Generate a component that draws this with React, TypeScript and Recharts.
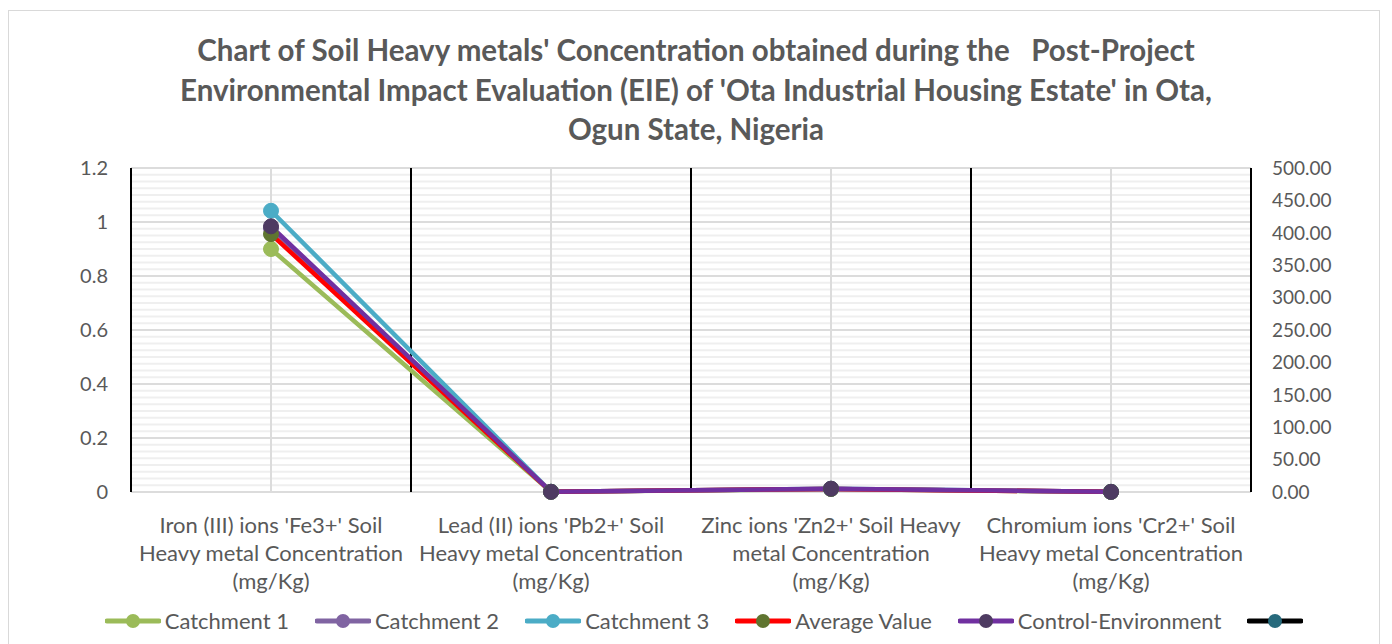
import React from "react";
import {
  LineChart,
  Line,
  XAxis,
  YAxis,
  CartesianGrid,
  ReferenceLine,
} from "recharts";

// category labels, broken the way the original wraps them
const categories = [
  "Iron (III) ions 'Fe3+' Soil\nHeavy metal Concentration\n(mg/Kg)",
  "Lead (II) ions 'Pb2+' Soil\nHeavy metal Concentration\n(mg/Kg)",
  "Zinc ions 'Zn2+' Soil Heavy\nmetal Concentration\n(mg/Kg)",
  "Chromium ions 'Cr2+' Soil\nHeavy metal Concentration\n(mg/Kg)",
];

// mg/Kg
const catchment1 = [375, 0.3, 4.6, 0.2];
const catchment2 = [407, 0.3, 4.8, 0.2];
const catchment3 = [434, 0.4, 5.0, 0.3];
const averageValue = [398, 0.3, 4.8, 0.2];
const controlEnvironment = [410, 0.3, 5.2, 0.2];
const blankSeries = [null, null, null, null];

const leftTicks = [0, 0.2, 0.4, 0.6, 0.8, 1, 1.2];
const rightTicks = [0, 50, 100, 150, 200, 250, 300, 350, 400, 450, 500];

const titleLines = [
  "Chart of Soil Heavy metals' Concentration obtained during the   Post-Project",
  "Environmental Impact Evaluation (EIE) of 'Ota Industrial Housing Estate' in Ota,",
  "Ogun State, Nigeria",
];

const series = [
  { key: "c1", name: "Catchment 1", values: catchment1, line: "#9BBB59", marker: "#9BBB59", axis: "right" },
  { key: "c2", name: "Catchment 2", values: catchment2, line: "#8064A2", marker: "#8064A2", axis: "right" },
  { key: "c3", name: "Catchment 3", values: catchment3, line: "#4BACC6", marker: "#4BACC6", axis: "right" },
  { key: "avg", name: "Average Value", values: averageValue, line: "#FF0000", marker: "#5F7530", axis: "right" },
  { key: "ctl", name: "Control-Environment", values: controlEnvironment, line: "#7030A0", marker: "#4E3B62", axis: "right" },
  { key: "blank", name: "", values: blankSeries, line: "#000000", marker: "#276A7C", axis: "left" },
];

const data = categories.map((label, i) => {
  const row: any = { pos: i + 0.5, label };
  series.forEach((s) => (row[s.key] = s.values[i]));
  return row;
});

const centers = data.map((d) => d.pos);
const boundaries = categories.map((_, i) => i).concat(categories.length);
// minor gridlines, 8 per major step
const minorLines: number[] = [];
for (let k = 0; k <= 48; k++) minorLines.push(+(k * 0.025).toFixed(3));

const FONT = "Lato, 'Open Sans', sans-serif";
const TEXT = "#595959";

function CategoryTick(props: any) {
  const { x, y, payload } = props;
  const idx = Math.round(payload.value - 0.5);
  const lines = (categories[idx] || "").split("\n");
  return (
    <text x={x} y={y + 33} textAnchor="middle" fill={TEXT} fontSize={22} fontFamily={FONT}>
      {lines.map((l, i) => (
        <tspan key={i} x={x} dy={i === 0 ? 0 : 28}>
          {l}
        </tspan>
      ))}
    </text>
  );
}

function LegendRow() {
  return (
    <div
      style={{
        position: "absolute",
        top: 599,
        left: 1,
        width: 1390,
        display: "flex",
        justifyContent: "center",
        alignItems: "center",
        gap: 26,
        fontFamily: FONT,
        fontSize: 22,
        color: TEXT,
      }}
    >
      {series.map((s) => (
        <div key={s.key} style={{ display: "flex", alignItems: "center" }}>
          <svg width={56} height={18}>
            <line x1={2} y1={9} x2={54} y2={9} stroke={s.line} strokeWidth={5} strokeLinecap="round" />
            <circle cx={28} cy={9} r={7} fill={s.marker} />
          </svg>
          {s.name && <span style={{ marginLeft: 4 }}>{s.name}</span>}
        </div>
      ))}
    </div>
  );
}

export default function App() {
  return (
    <div style={{ position: "relative", width: 1376, height: 636 }}>
      <div
        style={{
          position: "absolute",
          top: 2,
          left: 0,
          width: 1370,
          height: 640,
          border: "1px solid #d9d9d9",
          background: "#fff",
        }}
      />
      <div
        style={{
          position: "absolute",
          top: 22,
          left: 2,
          width: 1372,
          textAlign: "center",
          fontFamily: FONT,
          fontWeight: 700,
          fontSize: 29.5,
          lineHeight: "39.5px",
          color: TEXT,
          whiteSpace: "pre",
        }}
      >
        {titleLines.map((t, i) => (
          <div key={i}>{t}</div>
        ))}
      </div>
      <div style={{ position: "absolute", top: 3, left: 1 }}>
        <LineChart
          width={1370}
          height={640}
          data={data}
          margin={{ top: 157, right: 48, left: 62, bottom: 59 }}
        >
          <CartesianGrid
            yAxisId="minor"
            vertical={false}
            stroke="#efefef"
            strokeWidth={2}
          />
          <CartesianGrid
            yAxisId="left"
            horizontalValues={leftTicks}
            verticalValues={centers}
            stroke="#dcdcdc"
            strokeWidth={2}
          />
          <XAxis
            dataKey="pos"
            type="number"
            domain={[0, categories.length]}
            ticks={centers}
            tick={<CategoryTick />}
            axisLine={false}
            tickLine={false}
            interval={0}
            height={100}
          />
          <YAxis
            yAxisId="minor"
            type="number"
            domain={[0, 1.2]}
            allowDataOverflow
            ticks={minorLines}
            interval={0}
            hide
          />
          <YAxis
            yAxisId="left"
            type="number"
            domain={[0, 1.2]}
            allowDataOverflow
            ticks={leftTicks}
            interval={0}
            axisLine={false}
            tickLine={false}
            width={60}
            tickMargin={17}
            tick={{ fill: TEXT, fontSize: 20, fontFamily: FONT }}
          />
          <YAxis
            yAxisId="right"
            type="number"
            orientation="right"
            domain={[0, 500]}
            ticks={rightTicks}
            interval={0}
            tickFormatter={(v: number) => v.toFixed(2)}
            axisLine={false}
            tickLine={false}
            width={80}
            tickMargin={15}
            tick={{ fill: TEXT, fontSize: 19, fontFamily: FONT, textAnchor: "start" }}
          />
          {boundaries.map((b) => (
            <ReferenceLine key={b} yAxisId="right" x={b} stroke="#000" strokeWidth={2} />
          ))}
          {series.map((s) => (
            <Line
              key={s.key}
              yAxisId={s.axis}
              dataKey={s.key}
              name={s.name}
              type="linear"
              stroke={s.line}
              strokeWidth={4.5}
              dot={{ r: 7.5, fill: s.marker, stroke: s.marker, strokeWidth: 1 }}
              isAnimationActive={false}
            />
          ))}
        </LineChart>
      </div>
      <LegendRow />
    </div>
  );
}
